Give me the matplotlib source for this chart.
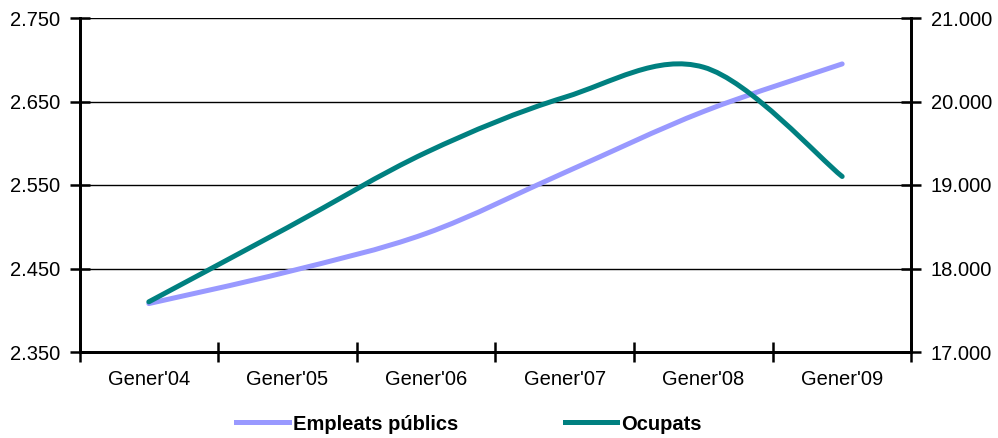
import numpy as np
import matplotlib
matplotlib.use('Agg')
import matplotlib.pyplot as plt
from matplotlib.path import Path
from matplotlib.patches import PathPatch
from matplotlib.lines import Line2D
from matplotlib.ticker import FuncFormatter, FixedLocator

plt.rcParams['font.family'] = ['Liberation Sans', 'DejaVu Sans']

# data
categories = ["Gener'04", "Gener'05", "Gener'06", "Gener'07", "Gener'08", "Gener'09"]
empleats = [2408, 2446, 2492, 2565, 2638, 2695]        # milers, eix esquerre
ocupats = [17601, 18490, 19390, 20051, 20411, 19102]   # milers, eix dret

c_emp = '#9999FF'
c_ocu = '#008080'


def smooth_path(xs, ys):
    # Excel-like smoothed line: cubic bezier through each point (catmull-rom)
    p = np.column_stack([xs, ys]).astype(float)
    n = len(p)
    verts = [p[0]]
    codes = [Path.MOVETO]
    for i in range(n - 1):
        p0 = p[max(i - 1, 0)]
        p3 = p[min(i + 2, n - 1)]
        c1 = p[i] + (p[i + 1] - p0) / 6
        c2 = p[i + 1] - (p3 - p[i]) / 6
        verts += [c1, c2, p[i + 1]]
        codes += [Path.CURVE4] * 3
    return Path(verts, codes)


def dots(v, pos):
    return f'{int(round(v)):,}'.replace(',', '.')


fig = plt.figure(figsize=(9.98, 4.38), dpi=100)
ax = fig.add_axes([79.5 / 998, 1 - 352 / 438, 832 / 998, 334 / 438])
ax2 = ax.twinx()

x = np.arange(len(categories))
ax.add_patch(PathPatch(smooth_path(x, empleats), fill=False, edgecolor=c_emp,
                       lw=3.6, capstyle='round', zorder=3))
ax2.add_patch(PathPatch(smooth_path(x, ocupats), fill=False, edgecolor=c_ocu,
                        lw=3.6, capstyle='round', zorder=3))

ax.set_xlim(-0.5, len(categories) - 0.5)
ax.set_ylim(2350, 2750)
ax2.set_ylim(17000, 21000)

ax.yaxis.set_major_locator(FixedLocator(np.arange(2350, 2751, 100)))
ax2.yaxis.set_major_locator(FixedLocator(np.arange(17000, 21001, 1000)))
ax.yaxis.set_major_formatter(FuncFormatter(dots))
ax2.yaxis.set_major_formatter(FuncFormatter(dots))

ax.set_xticks(x)
ax.set_xticklabels(categories)
ax.set_xticks(np.arange(-0.5, len(categories)), minor=True)
ax.tick_params(axis='x', which='major', length=0, pad=13, labelsize=14.5)
ax.tick_params(axis='x', which='minor', direction='inout', length=14, width=1.8)
ax.tick_params(axis='y', direction='inout', length=14, width=1.8, pad=7, labelsize=14.5)
ax2.tick_params(axis='y', direction='inout', length=14, width=1.8, pad=7, labelsize=14.5)

ax.grid(axis='y', color='black', lw=1)
ax.set_axisbelow(True)

for a in (ax, ax2):
    a.spines['top'].set_visible(False)
    for s in ('left', 'right', 'bottom'):
        a.spines[s].set_linewidth(2)
        a.spines[s].set_color('black')

handles = [Line2D([], [], color=c_emp, lw=3.6), Line2D([], [], color=c_ocu, lw=3.6)]
fig.legend(handles, ['Empleats públics', 'Ocupats'], loc='center',
           bbox_to_anchor=(0.47, 1 - 424 / 438), ncol=2, frameon=False,
           prop={'weight': 'bold', 'size': 14.5}, handlelength=2.6,
           handletextpad=0.2, columnspacing=5.3)

fig.savefig('out.png', dpi=100)
